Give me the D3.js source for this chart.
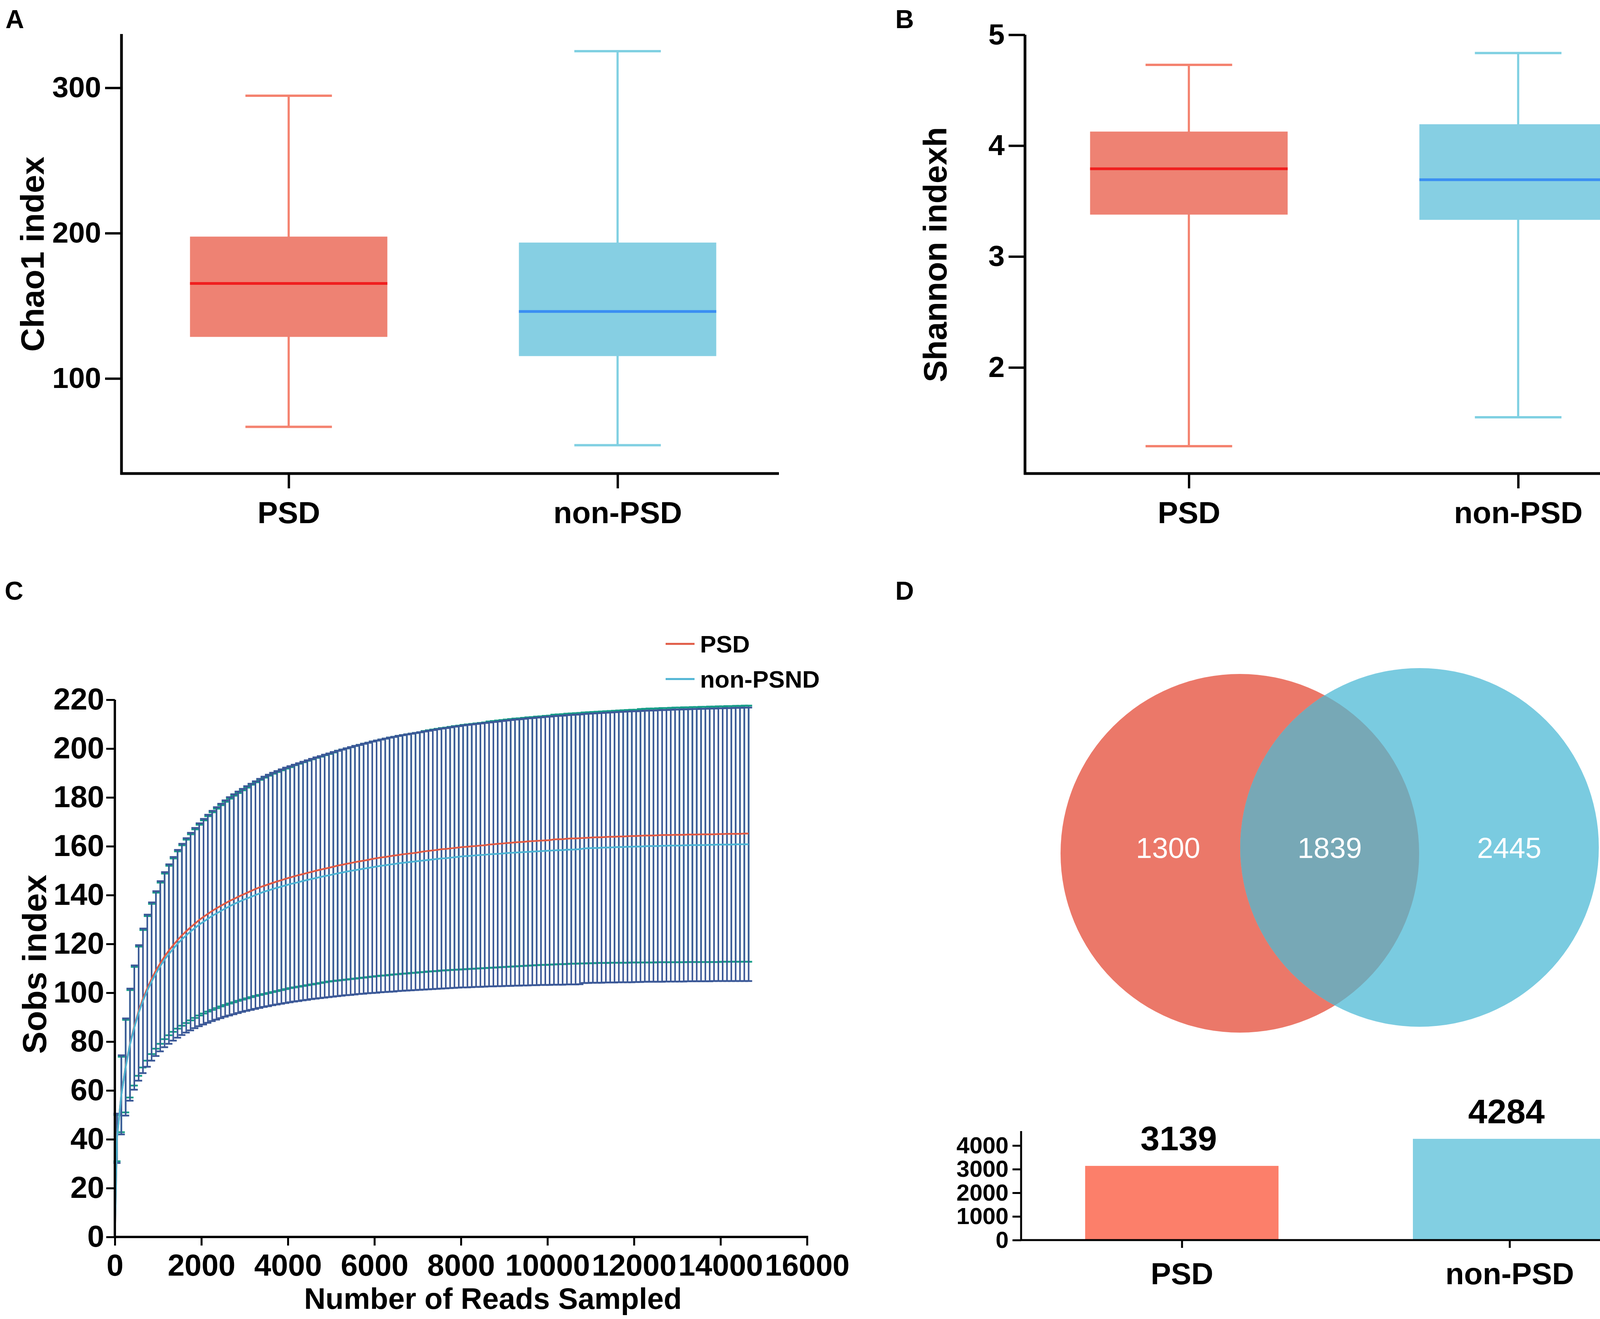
<!DOCTYPE html>
<html><head><meta charset="utf-8">
<script src="https://cdn.jsdelivr.net/npm/d3@7"></script>
<style>
body{margin:0;background:#fff}
svg{display:block}
text{font-family:"Liberation Sans",Arial,Helvetica,sans-serif}
</style>
</head><body>
<svg id="fig" width="4317" height="3376"></svg>
<script>
// ---------------- DATA ----------------
const groups = ["PSD", "non-PSD"];

// Panel A: Chao1 index box plots
const chao1Low    = [66.7, 54.1];
const chao1Q1     = [128.6, 115.4];
const chao1Median = [165.4, 146.1];
const chao1Q3     = [197.6, 193.5];
const chao1High   = [294.5, 325.2];
const chao1Ticks  = [100, 200, 300];

// Panel B: Shannon index box plots
const shannonLow    = [1.29, 1.55];
const shannonQ1     = [3.378, 3.331];
const shannonMedian = [3.791, 3.693];
const shannonQ3     = [4.127, 4.193];
const shannonHigh   = [4.729, 4.835];
const shannonTicks  = [2, 3, 4, 5];

// Panel C: rarefaction curves (Sobs index vs reads sampled)
const readDepths = [
  50,150,250,350,450,550,650,750,850,950,
  1050,1150,1250,1350,1450,1550,1650,1750,1850,1950,
  2050,2150,2250,2350,2450,2550,2650,2750,2850,2950,
  3050,3150,3250,3350,3450,3550,3650,3750,3850,3950,
  4050,4150,4250,4350,4450,4550,4650,4750,4850,4950,
  5050,5150,5250,5350,5450,5550,5650,5750,5850,5950,
  6050,6150,6250,6350,6450,6550,6650,6750,6850,6950,
  7050,7150,7250,7350,7450,7550,7650,7750,7850,7950,
  8050,8150,8250,8350,8450,8550,8650,8750,8850,8950,
  9050,9150,9250,9350,9450,9550,9650,9750,9850,9950,
  10050,10150,10250,10350,10450,10550,10650,10750,10850,10950,
  11050,11150,11250,11350,11450,11550,11650,11750,11850,11950,
  12050,12150,12250,12350,12450,12550,12650,12750,12850,12950,
  13050,13150,13250,13350,13450,13550,13650,13750,13850,13950,
  14050,14150,14250,14350,14450,14550,14650];

const psdMean = [
  40.5,58.4,70.0,79.1,86.3,92.5,97.6,101.8,105.7,109.1,
  112.1,114.9,117.3,119.5,121.6,123.5,125.2,126.8,128.3,129.8,
  131.1,132.3,133.5,134.6,135.6,136.6,137.6,138.4,139.3,140.1,
  140.9,141.7,142.5,143.2,143.8,144.4,145.0,145.6,146.1,146.7,
  147.2,147.7,148.2,148.6,149.1,149.5,150.0,150.4,150.8,151.2,
  151.6,152.1,152.4,152.8,153.1,153.5,153.8,154.1,154.4,154.8,
  155.1,155.4,155.6,155.9,156.2,156.4,156.7,156.9,157.1,157.3,
  157.6,157.9,158.1,158.3,158.5,158.8,158.9,159.1,159.3,159.5,
  159.7,159.8,160.0,160.1,160.3,160.4,160.7,160.8,161.0,161.1,
  161.3,161.4,161.6,161.7,161.8,162.0,162.1,162.2,162.3,162.4,
  162.5,162.8,162.9,162.9,163.1,163.2,163.2,163.3,163.4,163.5,
  163.6,163.7,163.7,163.8,163.9,163.9,164.0,164.0,164.1,164.2,
  164.2,164.3,164.4,164.4,164.4,164.5,164.6,164.6,164.6,164.7,
  164.7,164.7,164.8,164.8,164.8,164.9,164.9,164.9,164.9,165.0,
  165.0,165.1,165.1,165.1,165.1,165.2,165.2];
const psdLow = [
  31.0,42.9,51.0,57.1,62.0,66.0,69.4,72.2,74.9,77.1,
  79.1,81.0,82.6,84.0,85.3,86.5,87.6,88.7,89.7,90.7,
  91.5,92.3,93.0,93.7,94.4,95.0,95.6,96.1,96.7,97.2,
  97.7,98.2,98.7,99.1,99.5,99.9,100.3,100.7,101.1,101.5,
  101.9,102.2,102.5,102.8,103.1,103.4,103.7,104.0,104.3,104.6,
  104.8,105.0,105.2,105.4,105.6,105.8,106.0,106.2,106.4,106.6,
  106.8,107.0,107.1,107.3,107.5,107.6,107.8,107.9,108.1,108.2,
  108.4,108.5,108.7,108.8,108.9,109.1,109.2,109.3,109.4,109.5,
  109.6,109.7,109.8,109.9,110.0,110.1,110.2,110.3,110.4,110.5,
  110.6,110.7,110.8,110.9,111.0,111.1,111.2,111.3,111.4,111.4,
  111.5,111.6,111.7,111.7,111.8,111.9,111.9,112.0,112.0,112.1,
  112.1,112.2,112.2,112.2,112.3,112.3,112.3,112.3,112.3,112.4,
  112.4,112.4,112.4,112.4,112.4,112.5,112.5,112.5,112.5,112.5,
  112.5,112.5,112.6,112.6,112.6,112.6,112.6,112.6,112.6,112.6,
  112.7,112.7,112.7,112.7,112.7,112.7,112.7];
const psdHigh = [
  49.9,73.8,88.9,101.1,110.6,118.9,125.7,131.4,136.4,141.0,
  145.1,148.8,152.0,155.0,157.9,160.4,162.7,164.9,166.9,168.8,
  170.6,172.3,173.9,175.4,176.8,178.2,179.5,180.7,181.8,182.9,
  184.0,185.2,186.2,187.2,188.1,188.9,189.7,190.4,191.1,191.8,
  192.4,193.2,193.8,194.4,195.0,195.6,196.2,196.7,197.3,197.8,
  198.4,199.1,199.6,200.1,200.6,201.1,201.5,202.0,202.4,202.9,
  203.3,203.7,204.1,204.5,204.8,205.2,205.5,205.8,206.1,206.4,
  206.7,207.2,207.5,207.8,208.1,208.4,208.6,208.9,209.2,209.4,
  209.7,209.9,210.1,210.3,210.5,210.7,211.1,211.3,211.5,211.7,
  211.9,212.1,212.3,212.4,212.6,212.8,212.9,213.1,213.2,213.4,
  213.5,213.9,214.0,214.1,214.3,214.4,214.5,214.6,214.8,214.9,
  215.0,215.1,215.2,215.3,215.4,215.5,215.6,215.7,215.8,215.9,
  215.9,216.2,216.3,216.4,216.4,216.5,216.6,216.6,216.7,216.8,
  216.8,216.9,216.9,217.0,217.0,217.1,217.1,217.2,217.2,217.3,
  217.3,217.4,217.4,217.5,217.5,217.6,217.6];

const nonMean = [
  40.4,58.2,69.6,78.8,85.8,91.8,96.7,100.9,104.6,107.9,
  110.9,113.6,115.9,118.0,120.1,121.9,123.5,125.1,126.5,127.9,
  129.1,130.3,131.5,132.5,133.5,134.5,135.4,136.3,137.1,137.9,
  138.6,139.3,140.0,140.7,141.4,141.9,142.5,143.0,143.5,144.0,
  144.5,144.9,145.3,145.8,146.2,146.6,147.0,147.4,147.8,148.1,
  148.5,148.9,149.2,149.6,149.9,150.2,150.5,150.8,151.1,151.4,
  151.7,152.0,152.2,152.5,152.7,153.0,153.2,153.4,153.6,153.8,
  154.0,154.2,154.4,154.6,154.8,155.0,155.1,155.3,155.5,155.7,
  155.9,156.0,156.1,156.3,156.4,156.5,156.7,156.8,156.9,157.0,
  157.2,157.3,157.4,157.5,157.6,157.7,157.8,157.9,158.0,158.1,
  158.2,158.3,158.4,158.4,158.6,158.6,158.7,158.8,159.1,159.2,
  159.3,159.3,159.4,159.5,159.5,159.6,159.7,159.7,159.8,159.8,
  159.9,159.9,160.0,160.1,160.1,160.1,160.2,160.2,160.3,160.3,
  160.3,160.4,160.4,160.5,160.5,160.5,160.5,160.6,160.6,160.7,
  160.7,160.7,160.7,160.8,160.8,160.8,160.8];
const nonLow = [
  30.3,42.0,49.7,55.8,60.3,64.0,67.1,69.7,72.2,74.1,
  76.0,77.7,79.1,80.4,81.6,82.7,83.7,84.6,85.5,86.3,
  87.0,87.7,88.4,89.0,89.6,90.2,90.7,91.2,91.7,92.2,
  92.6,93.0,93.4,93.8,94.2,94.5,94.9,95.2,95.5,95.8,
  96.1,96.4,96.6,96.9,97.1,97.4,97.6,97.8,98.0,98.2,
  98.4,98.6,98.8,99.0,99.1,99.3,99.5,99.6,99.8,99.9,
  100.0,100.2,100.3,100.4,100.5,100.7,100.8,100.9,101.0,101.1,
  101.2,101.3,101.4,101.5,101.6,101.7,101.8,101.9,102.0,102.1,
  102.2,102.2,102.3,102.4,102.4,102.5,102.6,102.6,102.7,102.7,
  102.8,102.8,102.9,102.9,103.0,103.0,103.1,103.1,103.2,103.2,
  103.2,103.3,103.3,103.3,103.4,103.4,103.4,103.5,104.0,104.0,
  104.1,104.1,104.1,104.2,104.2,104.2,104.3,104.3,104.3,104.3,
  104.4,104.4,104.5,104.5,104.5,104.5,104.5,104.6,104.6,104.6,
  104.6,104.6,104.7,104.7,104.7,104.7,104.7,104.7,104.8,104.8,
  104.8,104.8,104.8,104.8,104.8,104.8,104.8];
const nonHigh = [
  50.5,74.4,89.5,101.7,111.2,119.5,126.3,132.0,137.0,141.6,
  145.7,149.4,152.6,155.6,158.5,161.0,163.3,165.5,167.5,169.4,
  171.2,172.9,174.5,176.0,177.4,178.8,180.1,181.3,182.4,183.5,
  184.6,185.6,186.6,187.6,188.5,189.3,190.1,190.8,191.5,192.2,
  192.8,193.4,194.0,194.6,195.2,195.8,196.4,196.9,197.5,198.0,
  198.6,199.1,199.6,200.1,200.6,201.1,201.5,202.0,202.4,202.9,
  203.3,203.7,204.1,204.5,204.8,205.2,205.5,205.8,206.1,206.4,
  206.7,207.0,207.3,207.6,207.9,208.2,208.4,208.7,209.0,209.2,
  209.5,209.7,209.9,210.1,210.3,210.5,210.7,210.9,211.1,211.3,
  211.5,211.7,211.9,212.0,212.2,212.4,212.5,212.7,212.8,213.0,
  213.1,213.3,213.4,213.5,213.7,213.8,213.9,214.0,214.2,214.3,
  214.4,214.5,214.6,214.7,214.8,214.9,215.0,215.1,215.2,215.3,
  215.3,215.4,215.5,215.6,215.6,215.7,215.8,215.8,215.9,216.0,
  216.0,216.1,216.1,216.2,216.2,216.3,216.3,216.4,216.4,216.5,
  216.5,216.6,216.6,216.7,216.7,216.8,216.8];
const rareOrigin = [0, 0];   // curves start at 0 reads, 0 OTUs
const rareXTicks = [0, 2000, 4000, 6000, 8000, 10000, 12000, 14000, 16000];
const rareYTicks = [0, 20, 40, 60, 80, 100, 120, 140, 160, 180, 200, 220];
const legendNames = ["PSD", "non-PSND"];

// Panel D: Venn counts and totals
const vennCounts  = [1300, 1839, 2445];   // PSD only, shared, non-PSD only
const totalCounts = [3139, 4284];
const totalTicks  = [0, 1000, 2000, 3000, 4000];

// ---------------- STYLE ----------------
const boxFill     = ["#EE8273", "#86CFE3"];
const whiskerCol  = ["#F4826F", "#80D0E2"];
const medianCol   = ["#F01E1E", "#3A8EF2"];
const lineCol     = ["#E05A44", "#4DB3D3"];
const errCol      = ["#179D88", "#3B5897"];
const barFill     = ["#FC7F6A", "#82CFE2"];
const vennFill    = ["#EB7869", "#7ACBE0", "#77A8B6"];

const svg = d3.select("#fig");
svg.append("rect").attr("width", 4317).attr("height", 3376).attr("fill", "#fff");

function styleAxis(g, fontSize, tickW) {
  g.select(".domain").remove();
  g.selectAll(".tick line").attr("stroke", "#000").attr("stroke-width", tickW);
  g.selectAll(".tick text").attr("fill", "#000").attr("font-size", fontSize)
    .attr("font-weight", "bold")
    .style("font-family", '"Liberation Sans", Arial, sans-serif');
}
function panelLabel(t, x, y) {
  svg.append("text").attr("x", x).attr("y", y).text(t)
    .attr("font-size", 66).attr("font-weight", "bold").attr("fill", "#000");
}
function yTitle(t, x, y, size) {
  svg.append("text").attr("transform", `translate(${x},${y}) rotate(-90)`)
    .attr("text-anchor", "middle").attr("font-size", size).attr("font-weight", "bold")
    .attr("fill", "#000").text(t);
}

// ---------------- BOX PANELS ----------------
function boxPanel(o) {
  const g = svg.append("g");
  const x = d3.scalePoint().domain(groups).range([o.sx0, o.sx1]).padding(0.5);
  const y = d3.scaleLinear().domain(o.domain).range([o.yBot, o.yTop]);
  const step = x.step(), bw = step * 0.6, cw = step * 0.263;
  groups.forEach((name, i) => {
    const cx = x(name);
    g.append("line").attr("x1", cx).attr("x2", cx).attr("y1", y(o.low[i])).attr("y2", y(o.high[i]))
      .attr("stroke", whiskerCol[i]).attr("stroke-width", 5.5);
    [o.low[i], o.high[i]].forEach(v => {
      g.append("line").attr("x1", cx - cw / 2).attr("x2", cx + cw / 2).attr("y1", y(v)).attr("y2", y(v))
        .attr("stroke", whiskerCol[i]).attr("stroke-width", 6);
    });
    g.append("rect").attr("x", cx - bw / 2).attr("width", bw)
      .attr("y", y(o.q3[i])).attr("height", y(o.q1[i]) - y(o.q3[i])).attr("fill", boxFill[i]);
    g.append("line").attr("x1", cx - bw / 2).attr("x2", cx + bw / 2)
      .attr("y1", y(o.med[i])).attr("y2", y(o.med[i]))
      .attr("stroke", medianCol[i]).attr("stroke-width", 7);
  });
  // axes
  g.append("line").attr("x1", o.ax).attr("x2", o.ax).attr("y1", o.yTop).attr("y2", o.yBot + 3)
    .attr("stroke", "#000").attr("stroke-width", 7);
  g.append("line").attr("x1", o.ax - 3).attr("x2", o.axEnd).attr("y1", o.yBot).attr("y2", o.yBot)
    .attr("stroke", "#000").attr("stroke-width", 7);
  const ya = g.append("g").attr("transform", `translate(${o.ax},0)`)
    .call(d3.axisLeft(y).tickValues(o.ticks).tickSize(42).tickPadding(10).tickFormat(d3.format("d")));
  styleAxis(ya, 75, 6);
  const xa = g.append("g").attr("transform", `translate(0,${o.yBot})`)
    .call(d3.axisBottom(x).tickSize(38).tickPadding(34));
  styleAxis(xa, 78, 6);
  yTitle(o.title, o.titleX, (o.yTop + o.yBot) / 2 + 1, 84);
}

boxPanel({ sx0: 318, sx1: 2002, ax: 311, axEnd: 1994, yTop: 87, yBot: 1212,
  domain: [34.6, 337], ticks: chao1Ticks,
  low: chao1Low, q1: chao1Q1, med: chao1Median, q3: chao1Q3, high: chao1High,
  title: "Chao1 index", titleX: 112 });
boxPanel({ sx0: 2622, sx1: 4308, ax: 2624, axEnd: 4302, yTop: 89, yBot: 1212,
  domain: [1.043, 5], ticks: shannonTicks,
  low: shannonLow, q1: shannonQ1, med: shannonMedian, q3: shannonQ3, high: shannonHigh,
  title: "Shannon indexh", titleX: 2423 });
panelLabel("A", 14, 72);
panelLabel("B", 2292, 72);

// ---------------- PANEL C ----------------
(function () {
  const g = svg.append("g");
  const x = d3.scaleLinear().domain([0, 16000]).range([294, 2066]);
  const y = d3.scaleLinear().domain([0, 220]).range([3166, 1791]);
  const capW = 18;
  const errSets = [[psdLow, psdHigh], [nonLow, nonHigh]];
  errSets.forEach((set, gi) => {
    const [lo, hi] = set;
    const eg = g.append("g").attr("stroke", errCol[gi]);
    readDepths.forEach((d, i) => {
      const cx = x(d);
      eg.append("line").attr("x1", cx).attr("x2", cx).attr("y1", y(lo[i])).attr("y2", y(hi[i]))
        .attr("stroke-width", 4);
      [lo[i], hi[i]].forEach(v => {
        eg.append("line").attr("x1", cx - capW / 2).attr("x2", cx + capW / 2)
          .attr("y1", y(v)).attr("y2", y(v)).attr("stroke-width", 4.5);
      });
    });
  });
  const line = d3.line().x(p => x(p[0])).y(p => y(p[1]));
  [psdMean, nonMean].forEach((m, gi) => {
    const pts = [rareOrigin].concat(readDepths.map((d, i) => [d, m[i]]));
    g.append("path").attr("d", line(pts)).attr("fill", "none")
      .attr("stroke", lineCol[gi]).attr("stroke-width", 4.5);
  });
  // axes
  g.append("line").attr("x1", 294).attr("x2", 294).attr("y1", 1791).attr("y2", 3169)
    .attr("stroke", "#000").attr("stroke-width", 6);
  g.append("line").attr("x1", 291).attr("x2", 2069).attr("y1", 3166).attr("y2", 3166)
    .attr("stroke", "#000").attr("stroke-width", 6);
  const ya = g.append("g").attr("transform", "translate(294,0)")
    .call(d3.axisLeft(y).tickValues(rareYTicks).tickSize(22).tickPadding(5).tickFormat(d3.format("d")));
  styleAxis(ya, 78, 5);
  const xa = g.append("g").attr("transform", "translate(0,3166)")
    .call(d3.axisBottom(x).tickValues(rareXTicks).tickSize(22).tickPadding(22).tickFormat(d3.format("d")));
  styleAxis(xa, 78, 5);
  svg.append("text").attr("x", 1262).attr("y", 3350).attr("text-anchor", "middle")
    .attr("font-size", 76).attr("font-weight", "bold").text("Number of Reads Sampled");
  yTitle("Sobs index", 118, 2468, 86);
  // legend
  legendNames.forEach((nm, i) => {
    const ly = 1648 + i * 90;
    svg.append("line").attr("x1", 1704).attr("x2", 1778).attr("y1", ly).attr("y2", ly)
      .attr("stroke", lineCol[i]).attr("stroke-width", 5);
    svg.append("text").attr("x", 1792).attr("y", ly + 22).attr("font-size", 62)
      .attr("font-weight", "bold").text(nm);
  });
  panelLabel("C", 12, 1535);
})();

// ---------------- PANEL D ----------------
(function () {
  const g = svg.append("g");
  const r = 459;
  const cA = [3174, 2184], cB = [3634, 2169];
  const defs = svg.append("defs");
  defs.append("clipPath").attr("id", "clipA").append("circle")
    .attr("cx", cA[0]).attr("cy", cA[1]).attr("r", r);
  g.append("circle").attr("cx", cA[0]).attr("cy", cA[1]).attr("r", r).attr("fill", vennFill[0]);
  g.append("circle").attr("cx", cB[0]).attr("cy", cB[1]).attr("r", r).attr("fill", vennFill[1]);
  g.append("circle").attr("cx", cB[0]).attr("cy", cB[1]).attr("r", r).attr("fill", vennFill[2])
    .attr("clip-path", "url(#clipA)");
  const lx = [cA[0] - r * 0.4, (cA[0] + r + cB[0] - r) / 2, cB[0] + r * 0.5];
  vennCounts.forEach((v, i) => {
    g.append("text").attr("x", lx[i]).attr("y", 2196).attr("text-anchor", "middle")
      .attr("font-size", 74).attr("fill", "#fff").text(v);
  });

  // bar chart of totals
  const x = d3.scalePoint().domain(groups).range([2606, 4284]).padding(0.5);
  const y = d3.scaleLinear().domain([0, 4612]).range([3174, 2895]);
  const bw = x.step() * 0.59;
  groups.forEach((nm, i) => {
    g.append("rect").attr("x", x(nm) - bw / 2).attr("width", bw)
      .attr("y", y(totalCounts[i])).attr("height", y(0) - y(totalCounts[i])).attr("fill", barFill[i]);
    g.append("text").attr("x", x(nm) - 8).attr("y", y(totalCounts[i]) - 40).attr("text-anchor", "middle")
      .attr("font-size", 88).attr("font-weight", "bold").text(totalCounts[i]);
  });
  g.append("line").attr("x1", 2614).attr("x2", 2614).attr("y1", 2895).attr("y2", 3176)
    .attr("stroke", "#000").attr("stroke-width", 5);
  g.append("line").attr("x1", 2612).attr("x2", 4263).attr("y1", 3174).attr("y2", 3174)
    .attr("stroke", "#000").attr("stroke-width", 5);
  g.append("line").attr("x1", 4263).attr("x2", 4263).attr("y1", 3174).attr("y2", 3194)
    .attr("stroke", "#000").attr("stroke-width", 5);
  const ya = g.append("g").attr("transform", "translate(2614,0)")
    .call(d3.axisLeft(y).tickValues(totalTicks).tickSize(22).tickPadding(10).tickFormat(d3.format("d")));
  styleAxis(ya, 60, 5);
  const xa = g.append("g").attr("transform", "translate(0,3174)")
    .call(d3.axisBottom(x).tickSize(20).tickPadding(38));
  styleAxis(xa, 78, 5);
  panelLabel("D", 2292, 1535);
})();
</script>
</body></html>
